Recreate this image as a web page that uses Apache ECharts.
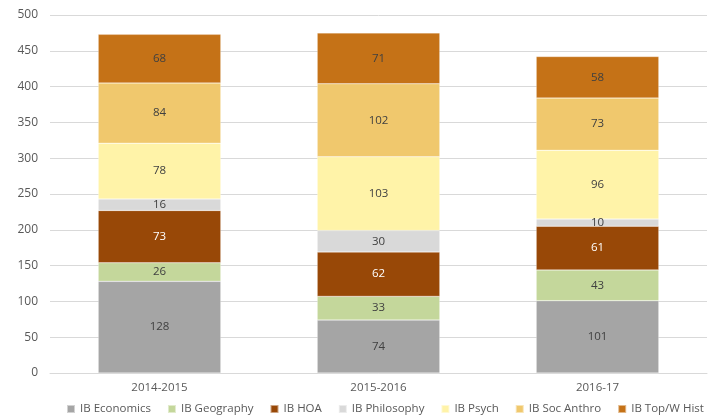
<!DOCTYPE html>
<html><head><meta charset="utf-8">
<script src="https://cdn.jsdelivr.net/npm/echarts@6/dist/echarts.min.js"></script>
<style>html,body{margin:0;padding:0;background:#fff}#c{width:726px;height:420px}</style>
</head><body><div id="c"></div>
<script>
var categories = ['2014-2015', '2015-2016', '2016-17'];
var seriesNames = ['IB Economics', 'IB Geography', 'IB HOA', 'IB Philosophy', 'IB Psych', 'IB Soc Anthro', 'IB Top/W Hist'];
var economics = [128, 74, 101];
var geography = [26, 33, 43];
var hoa = [73, 62, 61];
var philosophy = [16, 30, 10];
var psych = [78, 103, 96];
var socAnthro = [84, 102, 73];
var topWHist = [68, 71, 58];
var yTicks = [0, 50, 100, 150, 200, 250, 300, 350, 400, 450, 500];

var values = [economics, geography, hoa, philosophy, psych, socAnthro, topWHist];
var colors = ['#a5a5a5', '#c4d79b', '#984807', '#d9d9d9', '#fff3a8', '#f0c86d', '#c57217'];
var labelColors = ['#404040', '#404040', '#ffffff', '#404040', '#404040', '#404040', '#404040'];
var font = '"Open Sans", "Liberation Sans", sans-serif';

var chart = echarts.init(document.getElementById('c'), null, {renderer: 'canvas'});
chart.setOption({
  animation: false,
  textStyle: {fontFamily: font},
  grid: {left: 50, right: 19, top: 15, bottom: 47},
  legend: {
    bottom: 0, left: 61, itemWidth: 8, itemHeight: 8, itemGap: 16,
    icon: 'rect',
    textStyle: {color: '#595959', fontSize: 11.5, fontFamily: font},
    data: seriesNames
  },
  xAxis: {
    type: 'category', data: categories,
    axisLine: {lineStyle: {color: '#d9d9d9'}},
    axisTick: {show: false},
    axisLabel: {color: '#595959', fontSize: 11.5, margin: 9}
  },
  yAxis: {
    type: 'value', min: yTicks[0], max: yTicks[yTicks.length - 1], interval: 50,
    axisLine: {show: false}, axisTick: {show: false},
    splitLine: {lineStyle: {color: '#d9d9d9'}},
    axisLabel: {color: '#595959', fontSize: 12, margin: 12}
  },
  series: seriesNames.map(function (n, i) {
    return {
      name: n, type: 'bar', stack: 'total', barWidth: '56%',
      data: values[i],
      itemStyle: {color: colors[i], borderColor: 'rgba(255,255,255,0.5)', borderWidth: 0.5},
      label: {show: true, position: 'inside', color: labelColors[i], fontSize: 11.5, fontFamily: font}
    };
  })
});
</script></body></html>
